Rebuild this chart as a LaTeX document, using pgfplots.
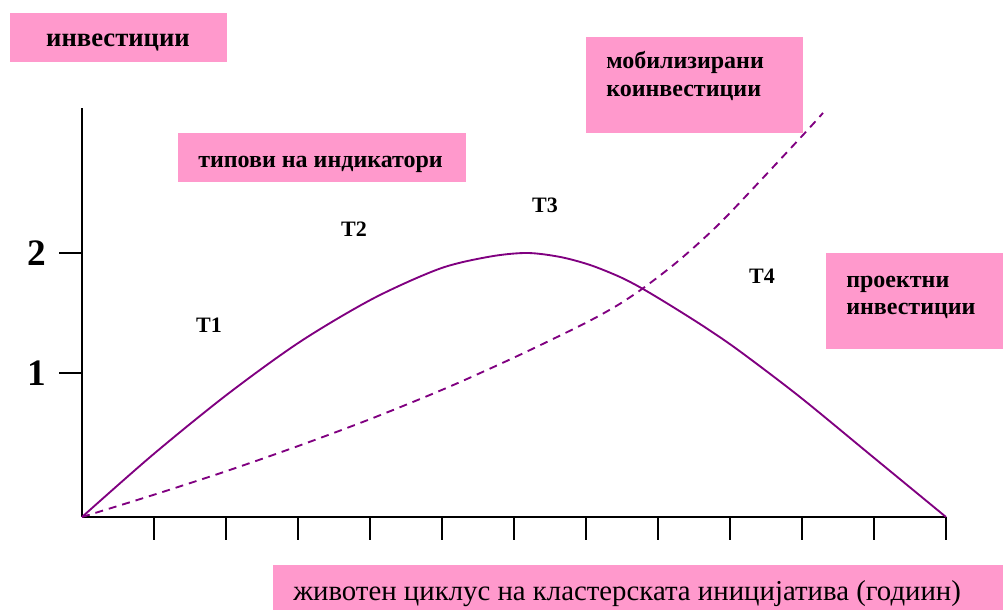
\documentclass[border=0pt]{standalone}
\usepackage{fontspec}
\setmainfont{Liberation Serif}
\usepackage{pgfplots}
\pgfplotsset{compat=1.18}
\definecolor{boxpink}{HTML}{FF99CC}
\definecolor{curvec}{HTML}{800080}

\pgfplotstableread{
x y
0 -0.2
0.986 0.32
2.014 0.82
3.028 1.26
4.042 1.62
4.972 1.87
5.667 1.97
6.181 2.0
6.639 1.967
7.056 1.9
7.472 1.8
7.792 1.7
8.208 1.55
8.681 1.37
9.139 1.18
9.972 0.8
10.986 0.3
12.0 -0.2
}\solid

\pgfplotstableread{
x y
0 -0.2
0.986 -0.017
2.014 0.184
3.028 0.397
4.042 0.625
5.069 0.877
6.042 1.140
6.958 1.406
7.431 1.562
7.792 1.706
8.208 1.897
8.583 2.092
9.0 2.334
9.972 2.956
10.292 3.167
}\dashedtab

\begin{document}
\begin{tikzpicture}
\begin{scope}[x=0.75pt,y=-0.75pt]
\useasboundingbox (0,0) rectangle (1003,610);
\fill[boxpink] (10,13) rectangle (227,62);
\node[font=\bfseries\fontsize{20}{22}\selectfont, anchor=base, inner sep=0] at (118,47) {инвестиции};
\fill[boxpink] (586,37) rectangle (803,133);
\node[font=\bfseries\fontsize{18}{20}\selectfont, anchor=base west, inner sep=0] at (606,69) {мобилизирани};
\node[font=\bfseries\fontsize{18}{20}\selectfont, anchor=base west, inner sep=0] at (606,97) {коинвестиции};
\fill[boxpink] (178,133) rectangle (466,182);
\node[font=\bfseries\fontsize{18}{20}\selectfont, anchor=base west, inner sep=0] at (198,167) {типови на индикатори};
\fill[boxpink] (826,253) rectangle (1003,349);
\node[font=\bfseries\fontsize{18}{20}\selectfont, anchor=base west, inner sep=0] at (846,287) {проектни};
\node[font=\bfseries\fontsize{18}{20}\selectfont, anchor=base west, inner sep=0] at (846,314) {инвестиции};
\fill[boxpink] (273,565) rectangle (1003,610);
\node[font=\fontsize{21.6}{24}\selectfont, anchor=base west, inner sep=0] at (293,600) {животен циклус на кластерската иницијатива (годиин)};
\node[font=\bfseries\fontsize{16.5}{18}\selectfont, anchor=base, inner sep=0] at (209,332) {Т1};
\node[font=\bfseries\fontsize{16.5}{18}\selectfont, anchor=base, inner sep=0] at (354,236) {Т2};
\node[font=\bfseries\fontsize{16.5}{18}\selectfont, anchor=base, inner sep=0] at (545,212) {Т3};
\node[font=\bfseries\fontsize{16.5}{18}\selectfont, anchor=base, inner sep=0] at (762,283) {Т4};
\end{scope}
\begin{axis}[
  at={(61.5pt,-387.75pt)}, anchor=south west,
  scale only axis, width=648pt, height=306.75pt,
  xmin=0, xmax=12, ymin=-0.2, ymax=3.208,
  axis lines=left, axis line style={-, line width=1.8pt, black},
  xtick={1,...,12}, xticklabels={},
  ytick={1,2}, yticklabels={1,2},
  tick align=outside, major tick length=17pt,
  tick style={line width=1.5pt, black},
  yticklabel style={font=\bfseries\fontsize{28}{30}\selectfont, xshift=-6pt},
  /pgf/number format/assume math mode=true,
  clip=false,
]
\addplot[curvec, line width=1.4pt, smooth, tension=0.5] table {\solid};
\addplot[curvec, line width=1.4pt, smooth, tension=0.5, dash pattern=on 6pt off 4.5pt] table {\dashedtab};
\end{axis}
\end{tikzpicture}
\end{document}
